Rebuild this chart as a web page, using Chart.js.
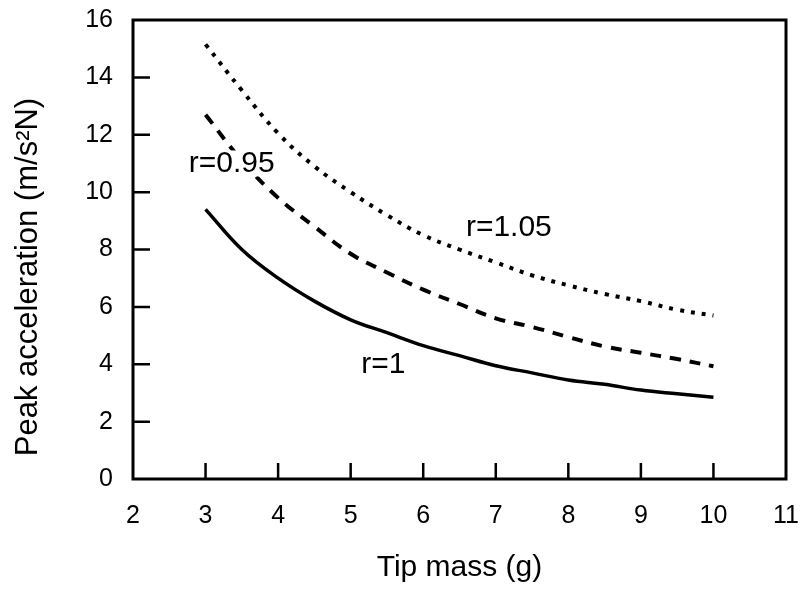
<!DOCTYPE html>
<html>
<head>
<meta charset="utf-8">
<script src="https://cdn.jsdelivr.net/npm/chart.js@4.4.1/dist/chart.umd.min.js"></script>
<style>
  html, body { margin: 0; padding: 0; background: #fff; }
  #wrap { width: 803px; height: 590px; }
</style>
</head>
<body>
<div id="wrap"><canvas id="massChart" width="803" height="590"></canvas></div>
<script>
// tip mass (g)
const mass = [3, 3.5, 4, 4.5, 5, 5.5, 6, 6.5, 7, 7.5, 8, 8.5, 9, 9.5, 10];
// peak acceleration (m/s^2 N)
const accelR105 = [15.15, 13.55, 12.05, 10.9, 10.0, 9.2, 8.5, 8.0, 7.55, 7.1, 6.75, 6.45, 6.2, 5.9, 5.7];
const accelR095 = [12.7, 11.1, 9.8, 8.8, 7.85, 7.2, 6.6, 6.1, 5.6, 5.3, 4.95, 4.62, 4.4, 4.18, 3.93];
const accelR1 = [9.4, 8.0, 7.0, 6.2, 5.55, 5.1, 4.65, 4.3, 3.95, 3.7, 3.45, 3.3, 3.1, 2.97, 2.85];

const xTicks = [2, 3, 4, 5, 6, 7, 8, 9, 10, 11];
const yTicks = [0, 2, 4, 6, 8, 10, 12, 14, 16];

// curve labels and where they sit (data coordinates)
const curveLabels = ['r=0.95', 'r=1.05', 'r=1'];
const labelX = [3.36, 7.18, 5.45];
const labelY = [11.0, 8.75, 3.97];

const yTitle = 'Peak acceleration (m/s²N)';

const FONT = '"Liberation Sans", Arial, Helvetica, sans-serif';

const toPoints = (ys) => mass.map((m, i) => ({ x: m, y: ys[i] }));

// inward tick marks, box frame, y title and curve labels
const framePlugin = {
  id: 'frame',
  afterDraw(chart) {
    const { ctx, chartArea: a, scales } = chart;
    ctx.save();
    ctx.strokeStyle = '#000';
    ctx.lineWidth = 3;
    ctx.strokeRect(a.left, a.top, a.right - a.left, a.bottom - a.top);

    ctx.lineWidth = 2.5;
    ctx.beginPath();
    xTicks.slice(1, -1).forEach(v => {
      const px = scales.x.getPixelForValue(v);
      ctx.moveTo(px, a.bottom);
      ctx.lineTo(px, a.bottom - 16);
    });
    yTicks.slice(1, -1).forEach(v => {
      const py = scales.y.getPixelForValue(v);
      ctx.moveTo(a.left, py);
      ctx.lineTo(a.left + 17, py);
    });
    ctx.stroke();

    ctx.font = '30px ' + FONT;
    ctx.textAlign = 'center';
    ctx.textBaseline = 'middle';
    curveLabels.forEach((t, i) => {
      const px = scales.x.getPixelForValue(labelX[i]);
      const py = scales.y.getPixelForValue(labelY[i]);
      const w = ctx.measureText(t).width;
      // the curves are broken where a label sits
      ctx.fillStyle = '#fff';
      ctx.fillRect(px - w / 2 - 2, py - 13, w + 4, 26);
      ctx.fillStyle = '#000';
      ctx.fillText(t, px, py);
    });

    // y title sits a bit below the axis middle in the original
    ctx.translate(28, 277);
    ctx.rotate(-Math.PI / 2);
    ctx.font = '31px ' + FONT;
    ctx.fillText(yTitle, 0, 0);
    ctx.restore();
  }
};

const ctx = document.getElementById('massChart').getContext('2d');

new Chart(ctx, {
  type: 'scatter',
  data: {
    datasets: [
      {
        label: 'r=1.05',
        data: toPoints(accelR105),
        showLine: true,
        borderColor: '#000',
        borderWidth: 4,
        borderDash: [4, 7],
        pointRadius: 0,
        tension: 0.4
      },
      {
        label: 'r=0.95',
        data: toPoints(accelR095),
        showLine: true,
        borderColor: '#000',
        borderWidth: 4,
        borderDash: [11, 9],
        pointRadius: 0,
        tension: 0.4
      },
      {
        label: 'r=1',
        data: toPoints(accelR1),
        showLine: true,
        borderColor: '#000',
        borderWidth: 3.5,
        pointRadius: 0,
        tension: 0.4
      }
    ]
  },
  options: {
    responsive: false,
    animation: false,
    layout: { padding: { top: 20, right: 17, left: 0, bottom: 0 } },
    plugins: {
      legend: { display: false },
      tooltip: { enabled: false }
    },
    scales: {
      x: {
        type: 'linear',
        min: 2,
        max: 11,
        afterBuildTicks: (s) => { s.ticks = xTicks.map(v => ({ value: v })); },
        afterFit: (s) => { s.height = 111; s.paddingLeft = 0; s.paddingRight = 0; },
        grid: { display: false, drawTicks: false },
        border: { display: false },
        ticks: { color: '#000', padding: 22, font: { family: FONT, size: 25 } },
        title: {
          display: true,
          text: 'Tip mass (g)',
          color: '#000',
          padding: { top: 15 },
          font: { family: FONT, size: 30 }
        }
      },
      y: {
        min: 0,
        max: 16,
        afterBuildTicks: (s) => { s.ticks = yTicks.map(v => ({ value: v })); },
        afterFit: (s) => { s.width = 133; s.paddingTop = 0; s.paddingBottom = 0; },
        grid: { display: false, drawTicks: false },
        border: { display: false },
        ticks: { color: '#000', padding: 20, font: { family: FONT, size: 25 } },
        title: { display: false }
      }
    }
  },
  plugins: [framePlugin]
});
</script>
</body>
</html>
